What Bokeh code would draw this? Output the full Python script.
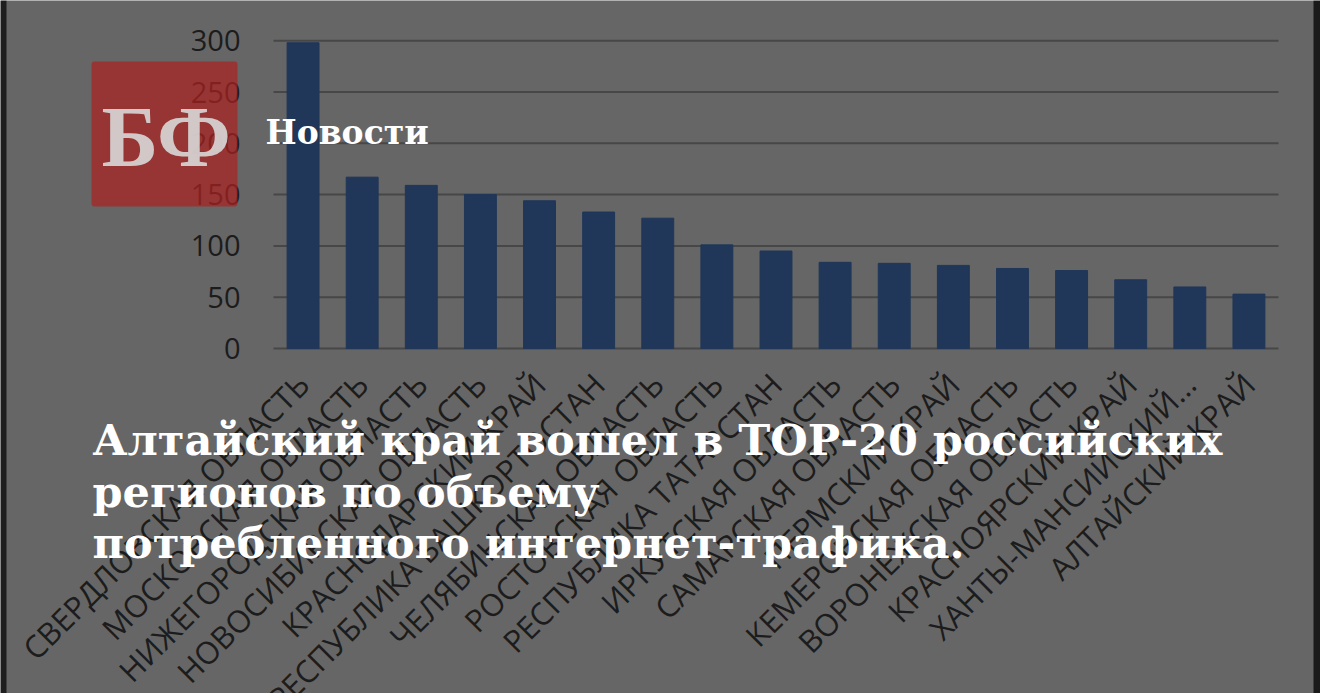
import math
from bokeh.plotting import figure
from bokeh.models import Range1d, Label, BoxAnnotation
from bokeh.core.properties import value
from bokeh.embed import file_html
from bokeh.resources import INLINE

# ---- data ----
regions = ["СВЕРДЛОВСКАЯ ОБЛАСТЬ", "МОСКОВСКАЯ ОБЛАСТЬ", "НИЖЕГОРОДСКАЯ ОБЛАСТЬ",
           "НОВОСИБИРСКАЯ ОБЛАСТЬ", "КРАСНОДАРСКИЙ КРАЙ", "РЕСПУБЛИКА БАШКОРТОСТАН",
           "ЧЕЛЯБИНСКАЯ ОБЛАСТЬ", "РОСТОВСКАЯ ОБЛАСТЬ", "РЕСПУБЛИКА ТАТАРСТАН",
           "ИРКУТСКАЯ ОБЛАСТЬ", "САМАРСКАЯ ОБЛАСТЬ", "ПЕРМСКИЙ КРАЙ",
           "КЕМЕРОВСКАЯ ОБЛАСТЬ", "ВОРОНЕЖСКАЯ ОБЛАСТЬ", "КРАСНОЯРСКИЙ КРАЙ",
           "ХАНТЫ-МАНСИЙСКИЙ...", "АЛТАЙСКИЙ КРАЙ"]
traffic = [298, 167, 159, 150, 144, 133, 127, 101, 95, 84, 83, 81, 78, 76, 67, 60, 53]
y_ticks = [0, 50, 100, 150, 200, 250, 300]
y_tick_labels = ["0", "50", "100", "150", "200", "250", "300"]
brand = "БФ"
section = "Новости"
headline = ["Алтайский край вошел в ТОР-20 российских",
            "регионов по объему",
            "потребленного интернет-трафика."]

BG = "#666666"
W, H = 1320, 693
FRAME_L, FRAME_R, FRAME_B = 273, 1278, 348   # chart area on the canvas (px)
PPU = 1.026                                   # px per traffic unit

n = len(regions)
step = (FRAME_R - FRAME_L) / n
xpos = [i + 0.5 for i in range(n)]

p = figure(x_range=Range1d(-FRAME_L / step, (W - FRAME_L) / step),
           y_range=Range1d(-(H - FRAME_B) / PPU, FRAME_B / PPU),
           width=W, height=H, output_backend="svg", toolbar_location=None,
           x_axis_type=None, y_axis_type=None, min_border=0)
p.background_fill_color = BG
p.border_fill_color = BG
p.outline_line_color = None
p.grid.visible = False

p.extra_x_ranges = {"px": Range1d(0, W)}
p.extra_y_ranges = {"px": Range1d(H, 0)}

# grid lines across the category extent
p.segment(x0=0, x1=n, y0=y_ticks, y1=y_ticks, line_color="#474747", line_width=2)

# bars
p.vbar(x=xpos, top=traffic, width=0.54, color="#203759")

# y tick labels
p.text(x=(240 - FRAME_L) / step, y=y_ticks, text=y_tick_labels,
       text_align="right", text_baseline="middle", text_color="#1c1c1c",
       text_font=value("Open Sans"), text_font_size="29px")

# category labels
p.text(x=xpos, y=-30 / PPU, text=regions, angle=math.pi / 4,
       text_align="right", text_baseline="middle", text_color="#1c1c1c",
       text_font=value("Open Sans"), text_font_size="31px")

# edge bands
p.add_layout(BoxAnnotation(left=0, right=6, top=0, bottom=H, x_range_name="px", y_range_name="px",
                           fill_color="#1e1e1e", fill_alpha=1, line_alpha=0))
p.add_layout(BoxAnnotation(left=1313, right=W, top=0, bottom=H, x_range_name="px", y_range_name="px",
                           fill_color="#1a1a1a", fill_alpha=1, line_alpha=0))

# logo
p.add_layout(BoxAnnotation(left=91, right=237, top=61, bottom=206, x_range_name="px", y_range_name="px",
                           fill_color="#aa2321", fill_alpha=0.72, line_alpha=0, border_radius=3))
p.add_layout(Label(x=101, y=136, x_range_name="px", y_range_name="px", text=brand,
                   text_font="Liberation Serif", text_font_style="bold", text_font_size="86px",
                   text_color="#d8d8d8", text_alpha=0.9, text_baseline="middle", text_align="left"))
p.add_layout(Label(x=265, y=132, x_range_name="px", y_range_name="px", text=section,
                   text_font="DejaVu Serif", text_font_style="bold", text_font_size="33px",
                   text_color="white", text_baseline="middle", text_align="left"))

for line, base in zip(headline, [439, 491, 542]):
    p.add_layout(Label(x=92, y=base, x_range_name="px", y_range_name="px", text=line,
                       text_font="DejaVu Serif", text_font_style="bold", text_font_size="43px",
                       text_color="white", text_baseline="middle", text_align="left"))

open("out.html", "w").write(file_html(p, INLINE))
